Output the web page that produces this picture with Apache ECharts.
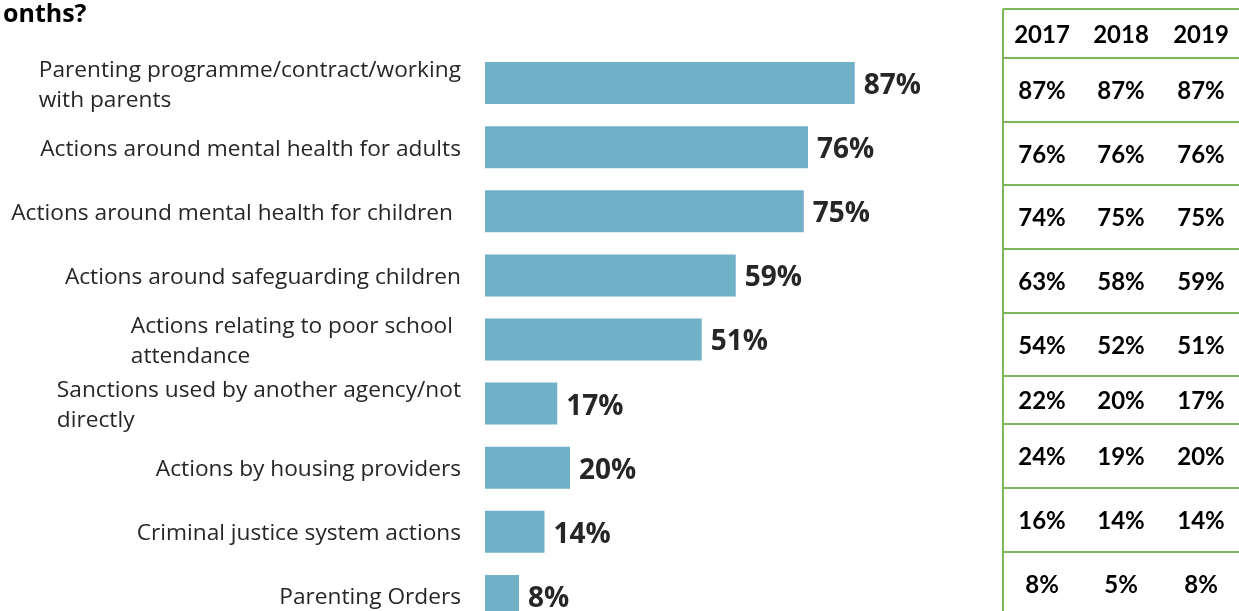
<!DOCTYPE html>
<html>
<head>
<meta charset="utf-8">
<script src="https://cdn.jsdelivr.net/npm/echarts@6/dist/echarts.min.js"></script>
<style>
  html, body { margin: 0; padding: 0; background: #ffffff; }
  #chart { width: 1239px; height: 611px; }
</style>
</head>
<body>
<div id="chart"></div>
<script>
// Categories (top to bottom) and the 2019 share for each
const categories = [
  'Parenting programme/contract/working\nwith parents',
  'Actions around mental health for adults',
  'Actions around mental health for children',
  'Actions around safeguarding children',
  'Actions relating to poor school\nattendance',
  'Sanctions used by another agency/not\ndirectly',
  'Actions by housing providers',
  'Criminal justice system actions',
  'Parenting Orders'
];
const barValues = [87, 76, 75, 59, 51, 17, 20, 14, 8];

// Year-on-year comparison table
const tableYears = ['2017', '2018', '2019'];
const values2017 = [87, 76, 74, 63, 54, 22, 24, 16, 8];
const values2018 = [87, 76, 75, 58, 52, 20, 19, 14, 5];
const values2019 = [87, 76, 75, 59, 51, 17, 20, 14, 8];

const titleText = 'onths?';

// How each category label is set: 'wrap' = left-aligned two-line block,
// 'inset' = pulled in a little from the axis
const labelMode = ['wrap', 'plain', 'inset', 'plain', 'wrapInset', 'wrap', 'plain', 'plain', 'plain'];

const TEXT = '#262626';
const BAR = '#71b1c8';
const GREEN = '#7db75a';
const LABEL_FONT = '"Open Sans", "Noto Sans", sans-serif';
const TABLE_FONT = 'Lato, "Liberation Sans", sans-serif';

const chart = echarts.init(document.getElementById('chart'), null, { renderer: 'canvas' });

const labelBase = { fontFamily: LABEL_FONT, fontSize: 22.7, color: TEXT };

function formatCategory(value, index) {
  const mode = labelMode[index];
  const lines = value.split('\n');
  if (mode === 'wrap') return lines.map(l => '{L|' + l + '}').join('\n');
  if (mode === 'wrapInset') return lines.map(l => '{LI|' + l + '}').join('\n');
  if (mode === 'inset') return '{I|' + value + '}';
  return '{R|' + value + '}';
}

// Table layout
const tableLeft = 1003;
const tableRight = 1245;
const tableTop = 9;
const rowLines = [58, 122, 185, 249, 313, 376, 424, 488, 552, 616];
const colCenters = [1042, 1121, 1201];

const graphics = [];
graphics.push({
  type: 'line', shape: { x1: tableLeft, y1: tableTop, x2: tableLeft, y2: 620 },
  style: { stroke: GREEN, lineWidth: 2 }, silent: true
});
graphics.push({
  type: 'line', shape: { x1: tableLeft, y1: tableTop, x2: tableRight, y2: tableTop },
  style: { stroke: GREEN, lineWidth: 2 }, silent: true
});
rowLines.forEach(y => {
  graphics.push({
    type: 'line', shape: { x1: tableLeft, y1: y, x2: tableRight, y2: y },
    style: { stroke: GREEN, lineWidth: 2 }, silent: true
  });
});
const tableText = (txt, x, y) => ({
  type: 'text', x: x, y: y,
  style: {
    text: txt, fill: '#000000', font: 'bold 24px ' + TABLE_FONT,
    align: 'center', verticalAlign: 'middle'
  },
  silent: true
});
tableYears.forEach((yr, c) => {
  graphics.push(tableText(yr, colCenters[c], (tableTop + rowLines[0]) / 2 + 1.5));
});
const tableCols = [values2017, values2018, values2019];
for (let r = 0; r < categories.length; r++) {
  const yc = (rowLines[r] + rowLines[r + 1]) / 2 + 1.5;
  tableCols.forEach((col, c) => {
    graphics.push(tableText(col[r] + '%', colCenters[c], yc));
  });
}

const option = {
  backgroundColor: '#ffffff',
  animation: false,
  title: {
    text: titleText,
    left: -2,
    top: -3,
    textStyle: { fontFamily: LABEL_FONT, fontSize: 25, fontWeight: 'bold', color: '#000000' }
  },
  grid: {
    left: 485, top: 51, width: 425, height: 577,
    containLabel: false,
    outerBoundsMode: 'none'
  },
  xAxis: {
    type: 'value', min: 0, max: 100,
    show: false
  },
  yAxis: {
    type: 'category',
    data: categories,
    inverse: true,
    axisLine: { show: false },
    axisTick: { show: false },
    splitLine: { show: false },
    axisLabel: {
      margin: 24,
      align: 'right',
      formatter: formatCategory,
      padding: [4, 0, 0, 0],
      ...labelBase,
      rich: {
        R: { ...labelBase },
        I: { ...labelBase, padding: [0, 8, 0, 0] },
        L: { ...labelBase, align: 'left', lineHeight: 30 },
        LI: { ...labelBase, align: 'left', lineHeight: 30, padding: [0, 8, 0, 0] }
      }
    }
  },
  series: [{
    type: 'bar',
    data: barValues,
    barWidth: 42,
    itemStyle: { color: BAR },
    label: {
      show: true,
      position: 'right',
      distance: 9,
      offset: [0, 3],
      formatter: '{c}%',
      fontFamily: LABEL_FONT,
      fontSize: 28,
      fontWeight: 'bold',
      color: TEXT
    }
  }],
  graphic: graphics
};

chart.setOption(option);
</script>
</body>
</html>
